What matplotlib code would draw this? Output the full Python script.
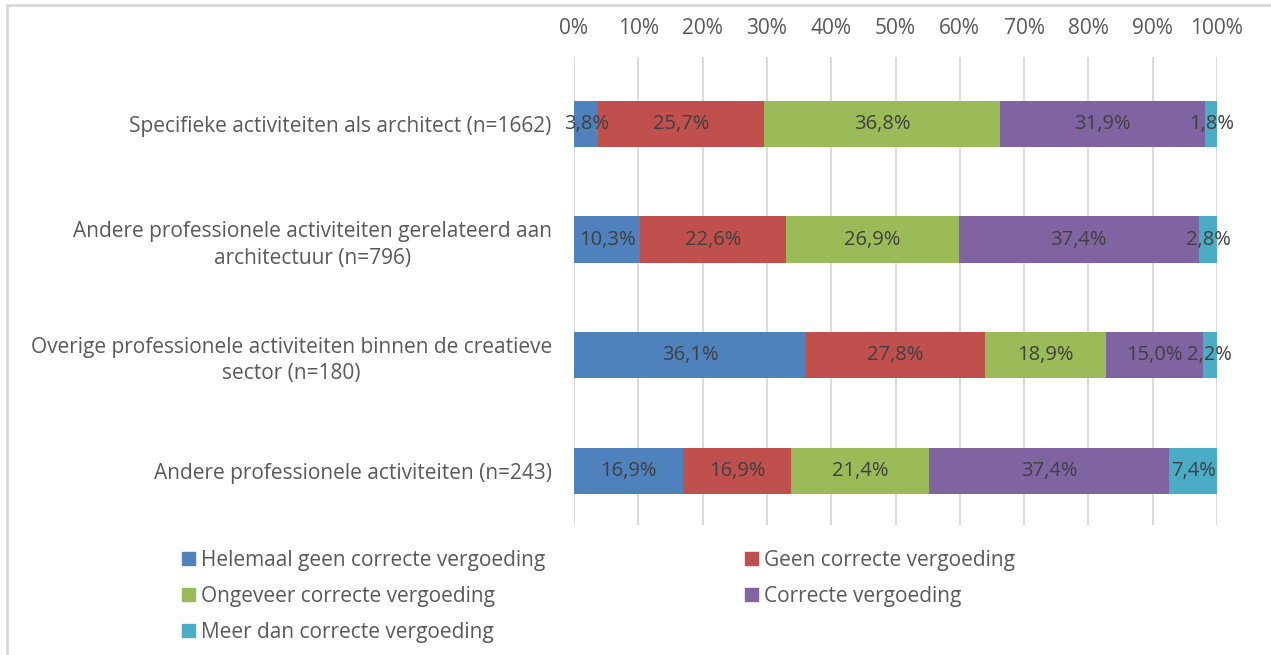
import numpy as np
import matplotlib
matplotlib.use("Agg")
import matplotlib.pyplot as plt
import matplotlib.patches as mpatches

plt.rcParams['font.family'] = ['Open Sans', 'DejaVu Sans']

categories = ["Specifieke activiteiten als architect (n=1662)",
              "Andere professionele activiteiten gerelateerd aan\narchitectuur (n=796)",
              "Overige professionele activiteiten binnen de creatieve\nsector (n=180)",
              "Andere professionele activiteiten (n=243)"]
series = ["Helemaal geen correcte vergoeding",
          "Geen correcte vergoeding",
          "Ongeveer correcte vergoeding",
          "Correcte vergoeding",
          "Meer dan correcte vergoeding"]
helemaal_geen = [3.8, 10.3, 36.1, 16.9]
geen = [25.7, 22.6, 27.8, 16.9]
ongeveer = [36.8, 26.9, 18.9, 21.4]
correct = [31.9, 37.4, 15.0, 37.4]
meer_dan = [1.8, 2.8, 2.2, 7.4]
colors = ['#4F81BD', '#C0504D', '#9BBB59', '#8064A2', '#4BACC6']

values = [helemaal_geen, geen, ongeveer, correct, meer_dan]

fig = plt.figure(figsize=(12.71, 6.55), dpi=100)
ax = fig.add_axes([574/1271, 1 - 525/655, (1217-574)/1271, (525-57)/655])

y = np.arange(len(categories))
left = np.zeros(len(categories))
for name, vals, col in zip(series, values, colors):
    vals = np.array(vals)
    ax.barh(y, vals, left=left, height=0.40, color=col, label=name, zorder=3)
    for yi, l, v in zip(y, left, vals):
        ax.text(l + v / 2, yi, ("%.1f%%" % v).replace('.', ','), ha='center', va='center',
                fontsize=14.5, color='#404040', zorder=4)
    left += vals

ax.set_xlim(0, 100)
ax.set_ylim(3.47, -0.58)
ax.set_xticks(np.arange(0, 101, 10))
ax.set_xticklabels(["%d%%" % t for t in range(0, 101, 10)])
ax.xaxis.tick_top()
ax.tick_params(axis='x', length=0, pad=13, labelsize=15, labelcolor='#595959')
ax.set_yticks(y)
ax.set_yticklabels(categories, multialignment='center', linespacing=1.35)
ax.tick_params(axis='y', length=0, pad=16, labelsize=15, labelcolor='#595959')
ax.grid(axis='x', color='#D9D9D9', linewidth=1.3, zorder=0)
for s in ax.spines.values():
    s.set_visible(False)

handles = [mpatches.Patch(color=c, label=n) for n, c in zip(series, colors)]
order = [0, 2, 4, 1, 3]
leg = fig.legend([handles[i] for i in order], [series[i] for i in order],
                 ncol=2, loc='upper left', bbox_to_anchor=(182/1271, 1 - 550/655),
                 frameon=False, fontsize=15, handlelength=0.6, handleheight=0.6,
                 handletextpad=0.3, columnspacing=9.6, labelspacing=0.72,
                 borderpad=0, borderaxespad=0)
for t in leg.get_texts():
    t.set_color('#595959')

fig.patches.append(mpatches.Rectangle((7/1271, -0.1), 1.2, 1 - 5/655 + 0.1,
                                      transform=fig.transFigure, fill=False,
                                      edgecolor='#D9D9D9', linewidth=2))

fig.savefig("out.png", dpi=100)
